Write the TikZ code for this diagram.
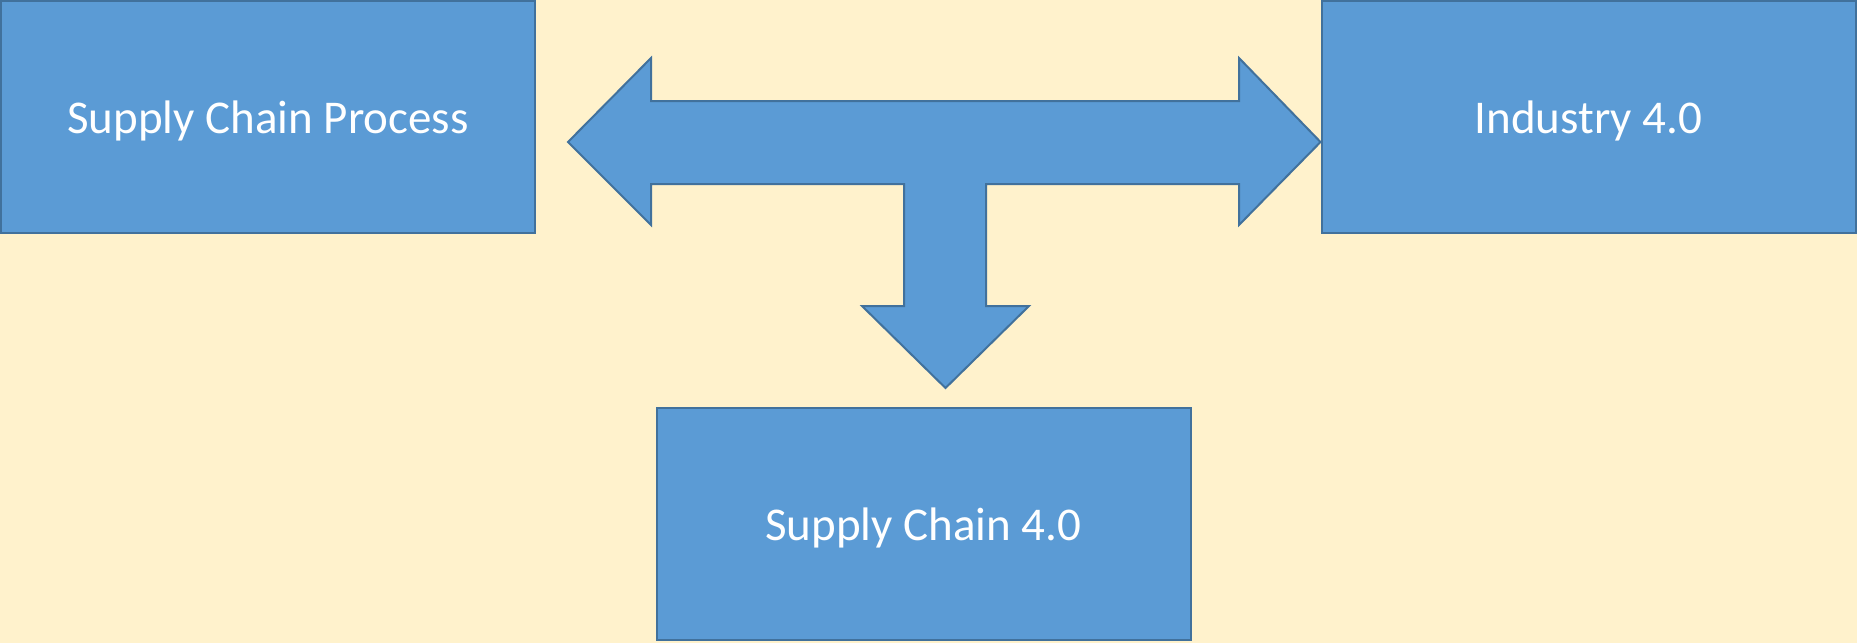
\documentclass[tikz,border=0pt]{standalone}
\usepackage{fontspec}
\setmainfont{Carlito}
\definecolor{paper}{HTML}{FFF2CC}
\definecolor{boxfill}{HTML}{5B9BD5}
\definecolor{boxline}{HTML}{41719C}
\begin{document}
\begin{tikzpicture}[x=1pt,y=-1pt,
  block/.style={draw=boxline,line width=2pt,fill=boxfill,text=white,
    minimum width=534pt,minimum height=232pt,inner sep=0pt,
    text height=32pt,text depth=0pt,
    font=\fontsize{47}{56}\selectfont},
  bigarrow/.style={draw=boxline,line width=2pt,fill=boxfill,line join=miter}]
  % page and background
  \fill[paper] (0,0) rectangle (1857,643);
  \useasboundingbox (0,0) rectangle (1857,643);

  % the three blocks
  \node[block] (scp) at (268,117) {Supply Chain Process};
  \node[block] (ind) at (1588.5,117) {Industry 4.0};
  \node[block] (sc4) at (923.5,524) {Supply Chain 4.0};

  % three-way block arrow between them
  \coordinate (ltip) at (568,142);
  \coordinate (rtip) at (ind.west |- ltip);
  \coordinate (dtip) at (945.5,388);
  \draw[bigarrow] (ltip) -- (651,58) -- (651,101) -- (1239,101) -- (1239,58)
    -- (rtip) -- (1239,225) -- (1239,184) -- (986,184) -- (986,306)
    -- (1029,306) -- (dtip) -- (862,306) -- (904,306) -- (904,184)
    -- (651,184) -- (651,225) -- cycle;
\end{tikzpicture}
\end{document}
